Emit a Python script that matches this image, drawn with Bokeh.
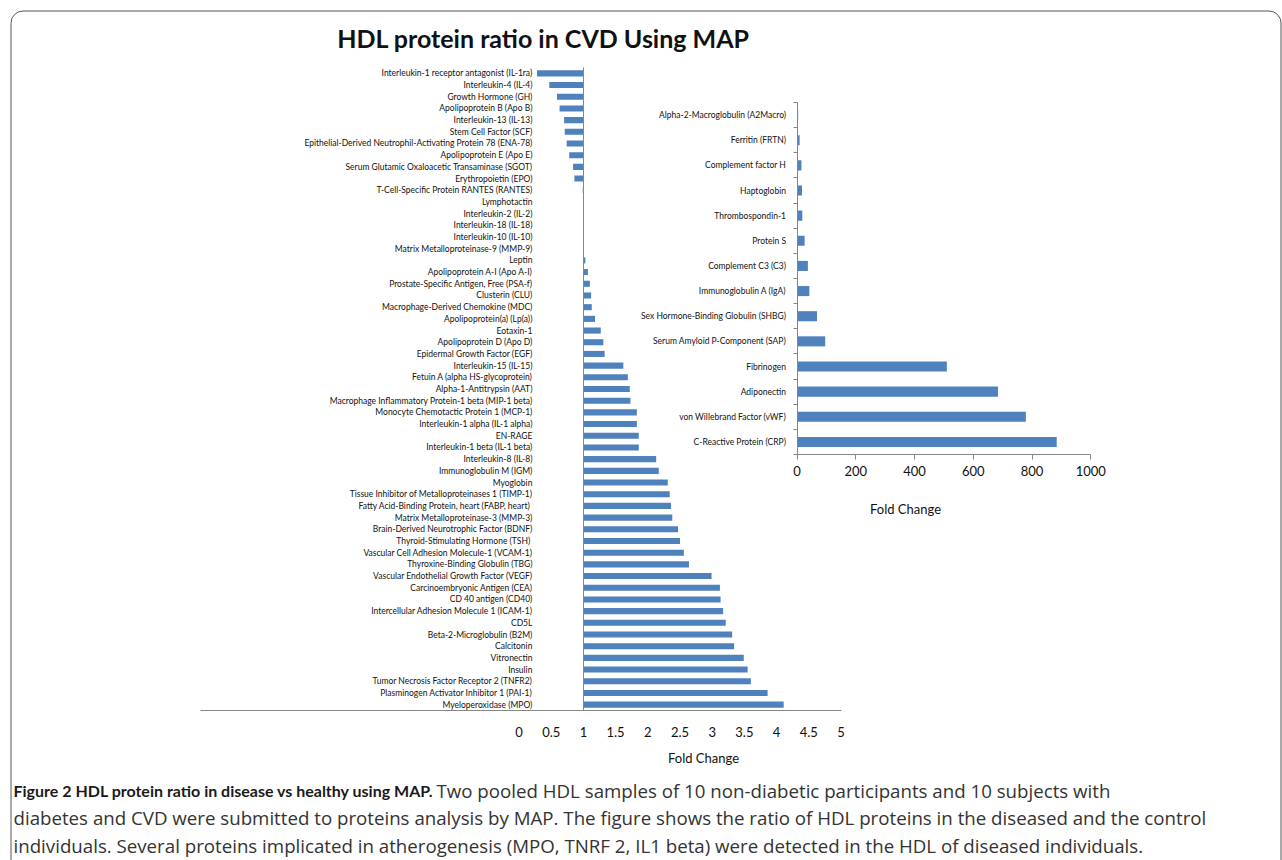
from bokeh.plotting import figure
from bokeh.models import Range1d, LinearAxis, FixedTicker
from bokeh.core.properties import value
from bokeh.embed import file_html
from bokeh.resources import INLINE

# ---------------- data ----------------
main_cats = [
    "Interleukin-1 receptor antagonist (IL-1ra)",
    "Interleukin-4 (IL-4)",
    "Growth Hormone (GH)",
    "Apolipoprotein B (Apo B)",
    "Interleukin-13 (IL-13)",
    "Stem Cell Factor (SCF)",
    "Epithelial-Derived Neutrophil-Activating Protein 78 (ENA-78)",
    "Apolipoprotein E (Apo E)",
    "Serum Glutamic Oxaloacetic Transaminase (SGOT)",
    "Erythropoietin (EPO)",
    "T-Cell-Specific Protein RANTES (RANTES)",
    "Lymphotactin",
    "Interleukin-2 (IL-2)",
    "Interleukin-18 (IL-18)",
    "Interleukin-10 (IL-10)",
    "Matrix Metalloproteinase-9 (MMP-9)",
    "Leptin",
    "Apolipoprotein A-I (Apo A-I)",
    "Prostate-Specific Antigen, Free (PSA-f)",
    "Clusterin (CLU)",
    "Macrophage-Derived Chemokine (MDC)",
    "Apolipoprotein(a) (Lp(a))",
    "Eotaxin-1",
    "Apolipoprotein D (Apo D)",
    "Epidermal Growth Factor (EGF)",
    "Interleukin-15 (IL-15)",
    "Fetuin A (alpha HS-glycoprotein)",
    "Alpha-1-Antitrypsin (AAT)",
    "Macrophage Inflammatory Protein-1 beta (MIP-1 beta)",
    "Monocyte Chemotactic Protein 1 (MCP-1)",
    "Interleukin-1 alpha (IL-1 alpha)",
    "EN-RAGE",
    "Interleukin-1 beta (IL-1 beta)",
    "Interleukin-8 (IL-8)",
    "Immunoglobulin M (IGM)",
    "Myoglobin",
    "Tissue Inhibitor of Metalloproteinases 1 (TIMP-1)",
    "Fatty Acid-Binding Protein, heart  (FABP, heart)",
    "Matrix Metalloproteinase-3 (MMP-3)",
    "Brain-Derived Neurotrophic Factor (BDNF)",
    "Thyroid-Stimulating Hormone  (TSH)",
    "Vascular Cell Adhesion Molecule-1 (VCAM-1)",
    "Thyroxine-Binding Globulin (TBG)",
    "Vascular Endothelial Growth Factor (VEGF)",
    "Carcinoembryonic Antigen (CEA)",
    "CD 40 antigen (CD40)",
    "Intercellular Adhesion Molecule 1 (ICAM-1)",
    "CD5L",
    "Beta-2-Microglobulin (B2M)",
    "Calcitonin",
    "Vitronectin",
    "Insulin",
    "Tumor Necrosis Factor Receptor 2 (TNFR2)",
    "Plasminogen Activator Inhibitor 1 (PAI-1)",
    "Myeloperoxidase (MPO)",
]
main_vals = [
    0.28, 0.47, 0.59, 0.63, 0.70, 0.71, 0.74, 0.78, 0.84, 0.86,
    0.99, 1.0, 1.0, 1.0, 1.0, 1.0, 1.03, 1.07, 1.10, 1.12,
    1.13, 1.18, 1.27, 1.31, 1.33, 1.62, 1.69, 1.72, 1.73, 1.83,
    1.83, 1.86, 1.86, 2.13, 2.17, 2.31, 2.34, 2.36, 2.38, 2.47,
    2.50, 2.56, 2.64, 2.99, 3.12, 3.13, 3.17, 3.21, 3.31, 3.34,
    3.49, 3.55, 3.60, 3.86, 4.11,
]
main_ticks = [0, 0.5, 1, 1.5, 2, 2.5, 3, 3.5, 4, 4.5, 5]
main_tick_labels = ["0", "0.5", "1", "1.5", "2", "2.5", "3", "3.5", "4", "4.5", "5"]
main_baseline = 1

inset_cats = [
    "Alpha-2-Macroglobulin (A2Macro)",
    "Ferritin (FRTN)",
    "Complement factor H",
    "Haptoglobin",
    "Thrombospondin-1",
    "Protein S",
    "Complement C3 (C3)",
    "Immunoglobulin A (IgA)",
    "Sex Hormone-Binding Globulin (SHBG)",
    "Serum Amyloid P-Component (SAP)",
    "Fibrinogen",
    "Adiponectin",
    "von Willebrand Factor (vWF)",
    "C-Reactive Protein (CRP)",
]
inset_vals = [4, 9, 15, 17, 18, 26, 37, 42, 68, 96, 510, 684, 779, 884]
inset_ticks = [0, 200, 400, 600, 800, 1000]

title_text = "HDL protein ratio in CVD Using MAP"
axis_title = "Fold Change"
caption_bold = "Figure 2 HDL protein ratio in disease vs healthy using MAP."
caption_lines = [
    "Two pooled HDL samples of 10 non-diabetic participants and 10 subjects with",
    "diabetes and CVD were submitted to proteins analysis by MAP. The figure shows the ratio of HDL proteins in the diseased and the control",
    "individuals. Several proteins implicated in atherogenesis (MPO, TNRF 2, IL1 beta) were detected in the HDL of diseased individuals.",
]

# ---------------- layout (page pixels) ----------------
W, H = 1282, 860
X_LO, X_HI = 0, W
Y_TOP, Y_BOT = 0, H


def lin(p0, d0, p1, d1):
    k = (d1 - d0) / (p1 - p0)
    return lambda px: d0 + (px - p0) * k


n_main = len(main_cats)
n_inset = len(inset_cats)
mx = lin(518.5, 0, 840.5, 5)
my = lin(710, -0.5, 67, n_main - 0.5)
ix = lin(796.5, 0, 1090.3, 1000)
iy = lin(454, -0.5, 102, n_inset - 0.5)

FONT = "Lato"
BAR = "#4f81bd"
AX = "#868686"

p = figure(width=W, height=H,
           x_range=Range1d(mx(X_LO), mx(X_HI)),
           y_range=Range1d(my(Y_BOT), my(Y_TOP)),
           x_axis_location=None, y_axis_location=None,
           toolbar_location=None, output_backend="svg", title=None,
           min_border=0, outline_line_color=None)
p.extra_x_ranges = {"inset": Range1d(ix(X_LO), ix(X_HI)), "px": Range1d(X_LO, X_HI)}
p.extra_y_ranges = {"inset": Range1d(iy(Y_BOT), iy(Y_TOP)), "px": Range1d(Y_BOT, Y_TOP)}
p.background_fill_color = "white"
p.border_fill_color = "white"
p.grid.visible = False

# ---------------- main chart ----------------
main_rows = [n_main - 1 - i for i in range(n_main)]
p.hbar(y=main_rows, left=main_baseline, right=main_vals, height=0.52,
       fill_color=BAR, line_color=None)

yax = LinearAxis(fixed_location=main_baseline, bounds=(-0.5, n_main - 0.5),
                 ticker=FixedTicker(ticks=main_rows),
                 major_label_overrides=dict(zip(main_rows, main_cats)),
                 axis_line_color=AX, major_tick_line_color=None,
                 minor_tick_line_color=None, major_label_standoff=45,
                 major_label_text_font=FONT, major_label_text_font_size="8.5px",
                 major_label_text_color="#111111")
p.add_layout(yax, "left")

xax = LinearAxis(fixed_location=-0.5, bounds=(mx(200), main_ticks[-1]),
                 ticker=FixedTicker(ticks=main_ticks),
                 major_label_overrides=dict(zip(main_ticks, main_tick_labels)),
                 axis_line_color=AX, major_tick_line_color=None,
                 minor_tick_line_color=None, major_label_standoff=10,
                 major_label_text_font=FONT, major_label_text_font_size="13px",
                 major_label_text_color="#111111")
p.add_layout(xax, "below")

# ---------------- inset chart ----------------
inset_rows = [n_inset - 1 - i for i in range(n_inset)]
p.hbar(y=inset_rows, left=0, right=inset_vals, height=0.4,
       fill_color=BAR, line_color=None,
       x_range_name="inset", y_range_name="inset")

iyax = LinearAxis(x_range_name="inset", y_range_name="inset",
                  fixed_location=0, bounds=(-0.5, n_inset - 0.5),
                  ticker=FixedTicker(ticks=inset_rows,
                                     minor_ticks=[k - 0.5 for k in range(n_inset + 1)]),
                  major_label_overrides=dict(zip(inset_rows, inset_cats)),
                  axis_line_color=AX, major_tick_line_color=None,
                  minor_tick_line_color=AX, minor_tick_out=4, minor_tick_in=0,
                  major_label_standoff=5,
                  major_label_text_font=FONT, major_label_text_font_size="8.5px",
                  major_label_text_color="#111111")
p.add_layout(iyax, "left")

ixax = LinearAxis(x_range_name="inset", y_range_name="inset",
                  fixed_location=-0.5, bounds=(inset_ticks[0], inset_ticks[-1]),
                  ticker=FixedTicker(ticks=inset_ticks),
                  axis_line_color=AX, major_tick_line_color=AX,
                  major_tick_out=5, major_tick_in=0,
                  minor_tick_line_color=None, major_label_standoff=6,
                  major_label_text_font=FONT, major_label_text_font_size="13px",
                  major_label_text_color="#111111")
p.add_layout(ixax, "below")

# ---------------- texts ----------------
def txt(x, y, t, size, style="normal", align="center", color="#111111", font=FONT):
    p.text(x=[x], y=[y], text=[t], x_range_name="px", y_range_name="px",
           text_font=value(font), text_font_size=value(size),
           text_font_style=style, text_align=align, text_baseline="middle",
           text_color=color)

txt(543, 37, title_text, "25px", "bold")
txt(703, 757, axis_title, "13px")
txt(905, 508, axis_title, "13px")

CAP = "#1a1a1a"
CAP2 = "#333333"
CAP_FONT = "Open Sans"
CAP_SIZE = "18.7px"
txt(13, 790, caption_bold, "16px", "bold", "left", CAP, FONT)
txt(436, 790, caption_lines[0], CAP_SIZE, "normal", "left", CAP2, CAP_FONT)
txt(13, 817, caption_lines[1], CAP_SIZE, "normal", "left", CAP2, CAP_FONT)
txt(13, 845, caption_lines[2], CAP_SIZE, "normal", "left", CAP2, CAP_FONT)

# rounded frame around the figure
p.quad(left=10.5, right=1280.5, top=10.5, bottom=900, border_radius=12,
       fill_color=None, line_color="#555555", line_width=1,
       x_range_name="px", y_range_name="px")

open("out.html", "w").write(file_html(p, INLINE))
